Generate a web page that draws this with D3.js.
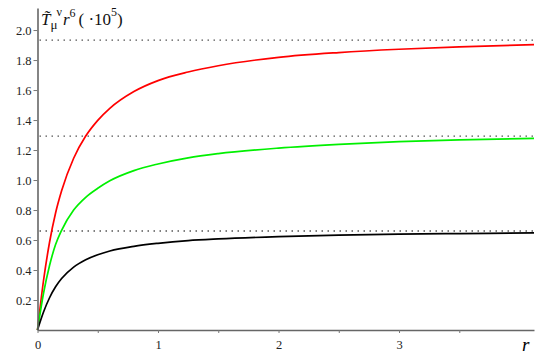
<!DOCTYPE html>
<html>
<head>
<meta charset="utf-8">
<script src="https://cdn.jsdelivr.net/npm/d3@7"></script>
<style>
  body { margin: 0; background: #fff; }
  svg { display: block; }
  svg text { font-family: "Liberation Serif", "Times New Roman", serif; }
</style>
</head>
<body>
<svg width="550" height="363"></svg>
<script>
const svg = d3.select("svg");

// DATA
const rValues = [0, 0.05, 0.1, 0.15, 0.2, 0.3, 0.4, 0.5, 0.6, 0.8, 1.0, 1.25, 1.5, 2.0, 2.5, 3.0, 3.5, 4.12];
const redValues = [0, 0.33, 0.585, 0.78, 0.928, 1.145, 1.293, 1.398, 1.478, 1.59, 1.663, 1.72, 1.762, 1.818, 1.85, 1.872, 1.888, 1.903];
const greenValues = [0, 0.245, 0.43, 0.57, 0.665, 0.80, 0.885, 0.945, 0.995, 1.063, 1.107, 1.148, 1.176, 1.213, 1.238, 1.256, 1.268, 1.278];
const blackValues = [0, 0.12, 0.215, 0.288, 0.343, 0.419, 0.468, 0.502, 0.527, 0.558, 0.578, 0.596, 0.607, 0.622, 0.632, 0.639, 0.643, 0.647];
const asymptotes = [1.933, 1.293, 0.66];
const yTicks = [0.2, 0.4, 0.6, 0.8, 1.0, 1.2, 1.4, 1.6, 1.8, 2.0];
const xTicks = [0, 1, 2, 3];
const xMinorTicks = [0.5, 1.5, 2.5, 3.5];

const series = [
  { color: "#ff0000", values: redValues },
  { color: "#00f000", values: greenValues },
  { color: "#000000", values: blackValues }
];

// SCALES
const xScale = d3.scaleLinear().domain([0, 4.12]).range([37.5, 534]);
const yScale = d3.scaleLinear().domain([0, 2.147]).range([330, 8]);

// dotted asymptotes
svg.append("g")
  .selectAll("line")
  .data(asymptotes)
  .join("line")
  .attr("x1", xScale(0) + 2)
  .attr("x2", xScale(4.12))
  .attr("y1", d => yScale(d))
  .attr("y2", d => yScale(d))
  .attr("stroke", "#555")
  .attr("stroke-width", 1.3)
  .attr("stroke-dasharray", "1.5,4.5");

// curves
const line = d3.line()
  .x((d, i) => xScale(rValues[i]))
  .y(d => yScale(d))
  .curve(d3.curveMonotoneX);

svg.append("g")
  .selectAll("path")
  .data(series)
  .join("path")
  .attr("fill", "none")
  .attr("stroke", d => d.color)
  .attr("stroke-width", 1.7)
  .attr("d", d => line(d.values));

// y axis
const yAxis = svg.append("g")
  .attr("transform", `translate(${xScale(0)},0)`)
  .call(d3.axisLeft(yScale).tickValues(yTicks).tickSize(4).tickSizeOuter(0).tickFormat(d3.format(".1f")));

// x axis
const xAxis = svg.append("g")
  .attr("transform", `translate(0,${yScale(0)})`)
  .call(d3.axisBottom(xScale).tickValues(xTicks).tickSize(3).tickSizeOuter(0).tickFormat(d3.format("d")));

svg.append("g")
  .attr("transform", `translate(0,${yScale(0)})`)
  .call(d3.axisBottom(xScale).tickValues(xMinorTicks).tickSize(3).tickSizeOuter(0).tickFormat(""))
  .select(".domain").remove();

svg.selectAll("g").attr("font-family", null);
svg.selectAll(".tick line").attr("stroke", "#777");
svg.selectAll(".domain").attr("stroke", "#666").attr("stroke-width", 1.6);
svg.selectAll(".tick text")
  .attr("font-size", 12.5)
  .attr("fill", "#222");
yAxis.selectAll(".tick text").attr("x", -6);
xAxis.selectAll(".tick text").attr("y", 10);

// axis labels
svg.append("text")
  .attr("x", 522)
  .attr("y", 351)
  .attr("font-size", 19)
  .attr("font-style", "italic")
  .text("r");

const title = svg.append("text")
  .attr("x", 41)
  .attr("y", 25)
  .attr("font-size", 17)
  .attr("fill", "#111");
title.append("tspan").attr("font-style", "italic").text("T\u0303");
title.append("tspan").attr("dy", 4).attr("font-size", 13).text("μ");
title.append("tspan").attr("dy", -13).attr("dx", -1).attr("font-size", 12).text("ν");
title.append("tspan").attr("dy", 9).attr("dx", 1).attr("font-style", "italic").text("r");
title.append("tspan").attr("dy", -8).attr("font-size", 12).text("6");
title.append("tspan").attr("dy", 8).attr("dx", 3).text("( ·10");
title.append("tspan").attr("dy", -9).attr("font-size", 12).text("5");
title.append("tspan").attr("dy", 9).text(")");
</script>
</body>
</html>
